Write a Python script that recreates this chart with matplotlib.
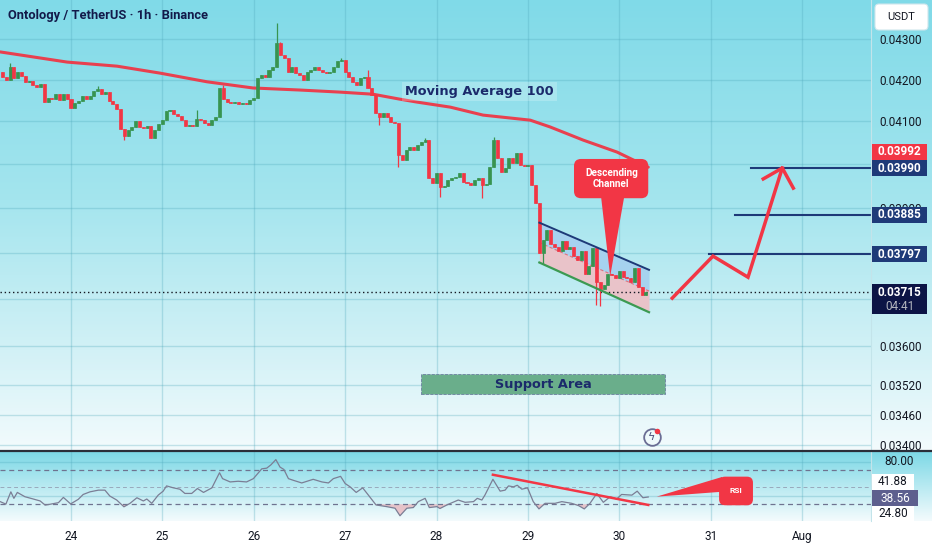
import numpy as np
import matplotlib
matplotlib.use("Agg")
import matplotlib.pyplot as plt
from matplotlib.patches import Rectangle, FancyBboxPatch, Polygon
from matplotlib.lines import Line2D
from matplotlib.transforms import IdentityTransform
from matplotlib.ticker import NullLocator, NullFormatter

plt.rcParams['font.family'] = ['Roboto', 'DejaVu Sans']

W, H = 932, 550

# one candle per hour, hours counted from 24 Jul 00:00
first_hour = -18
first_open = 0.04219
closes = [
    0.04207, 0.04199, 0.04231, 0.04204, 0.04219, 0.04209, 0.04195, 0.04197, 0.04187, 0.04182,
    0.04190, 0.04146, 0.04156, 0.04154, 0.04165, 0.04151, 0.04165, 0.04153, 0.04132, 0.04144,
    0.04149, 0.04161, 0.04153, 0.04161, 0.04173, 0.04178, 0.04165, 0.04170, 0.04149, 0.04141,
    0.04129, 0.04082, 0.04066, 0.04080, 0.04087, 0.04101, 0.04087, 0.04084, 0.04089, 0.04061,
    0.04080, 0.04094, 0.04103, 0.04125, 0.04127, 0.04117, 0.04113, 0.04103, 0.04089, 0.04091,
    0.04088, 0.04106, 0.04103, 0.04096, 0.04091, 0.04103, 0.04110, 0.04180, 0.04153, 0.04146,
    0.04144, 0.04146, 0.04141, 0.04144, 0.04141, 0.04151, 0.04156, 0.04204, 0.04212, 0.04207,
    0.04224, 0.04231, 0.04290, 0.04260, 0.04253, 0.04219, 0.04231, 0.04216, 0.04212, 0.04199,
    0.04219, 0.04224, 0.04231, 0.04224, 0.04219, 0.04216, 0.04219, 0.04231, 0.04246, 0.04248,
    0.04219, 0.04207, 0.04195, 0.04187, 0.04204, 0.04206, 0.04180, 0.04163, 0.04120, 0.04110,
    0.04120, 0.04110, 0.04098, 0.04096, 0.04021, 0.04010, 0.04033, 0.04040, 0.04033, 0.04045,
    0.04052, 0.04056, 0.03968, 0.03956, 0.03979, 0.03947, 0.03949, 0.03963, 0.03968, 0.03970,
    0.03979, 0.03959, 0.03956, 0.03952, 0.03963, 0.03968, 0.03952, 0.03954, 0.03993, 0.04056,
    0.04014, 0.03982, 0.03991, 0.04014, 0.04003, 0.04026, 0.03998, 0.03996, 0.03998, 0.03952,
    0.03911, 0.03800, 0.03828, 0.03851, 0.03820, 0.03813, 0.03804, 0.03826, 0.03808, 0.03813,
    0.03793, 0.03784, 0.03804, 0.03754, 0.03771, 0.03811, 0.03736, 0.03721, 0.03730, 0.03754,
    0.03752, 0.03745, 0.03760, 0.03747, 0.03745, 0.03736, 0.03767, 0.03726, 0.03709, 0.03715,
]
wick_high = {-16: 0.04240, 7: 0.04185, 33: 0.04127, 40: 0.04187, 54: 0.04340, 55: 0.04293,
             71: 0.04253, 78: 0.04224, 93: 0.04061, 111: 0.04063}
wick_low = {14: 0.04056, 81: 0.04091, 86: 0.03993, 97: 0.03925, 108: 0.03923,
            124: 0.03776, 138: 0.03687, 139: 0.03685}

ma_hours = [-18.6, -1.0, 12.1, 23.4, 35.7, 47.8, 60.2, 70.7, 79.3, 86.4, 90.9, 99.6,
            108.2, 120.6, 125.8, 134.5, 143.4, 151.6]
ma_values = [0.04268, 0.04243, 0.04233, 0.04216, 0.04195, 0.04180, 0.04175, 0.04170, 0.04165,
             0.04153, 0.04146, 0.04134, 0.04115, 0.04103, 0.04087, 0.04056, 0.04028, 0.03993]

rsi_hours = [-18.6, -17.1, -15.8, -15.0, -14.1, -12.1, -9.9, -8.1, -6.8, -5.5, -3.3, -2.0, -0.1,
             1.9, 3.2, 5.0, 7.2, 8.9, 10.2, 12.0, 13.9, 15.5, 17.3, 19.0, 19.9, 21.2, 22.9, 24.2,
             25.1, 26.9, 28.6, 29.9, 31.7, 33.2, 34.8, 37.0, 39.0, 39.8, 41.8, 43.9, 46.1, 47.9,
             50.1, 51.4, 52.5, 53.8, 54.9, 55.9, 57.1, 58.4, 60.6, 63.6, 65.9, 67.6, 68.9, 70.8,
             72.0, 73.3, 74.9, 76.6, 78.1, 80.1, 82.9, 85.1, 86.4, 88.2, 89.9, 91.2, 93.0, 94.1,
             96.1, 96.9, 99.1, 101.7, 103.5, 105.7, 106.7, 107.9, 108.7, 110.8, 112.7, 114.0,
             114.9, 116.2, 117.2, 118.4, 119.9, 121.4, 122.9, 124.5, 127.1, 128.9, 131.5, 133.3,
             134.8, 136.3, 138.1, 139.8, 141.6, 143.3, 144.6, 147.3, 148.7, 150.2, 151.6]
rsi_values = [33.1, 30.2, 44.7, 37.0, 44.0, 38.9, 36.2, 33.9, 29.0, 30.0, 31.9, 38.1, 30.4,
              35.8, 41.6, 44.7, 46.7, 46.7, 39.7, 35.0, 27.0, 31.1, 37.7, 33.9, 36.2, 31.1, 40.8,
              45.5, 51.7, 49.4, 47.8, 42.8, 42.8, 48.6, 44.0, 49.4, 67.3, 60.3, 56.4, 57.2, 56.4,
              60.3, 71.9, 72.7, 76.6, 82.8, 73.9, 71.2, 60.3, 58.3, 55.2, 59.5, 56.4, 55.2, 60.3,
              63.0, 54.5, 50.6, 44.0, 49.4, 40.8, 29.2, 27.2, 25.3, 16.4, 25.3, 26.1, 33.1, 37.0,
              26.1, 27.2, 25.0, 30.0, 35.0, 32.3, 33.1, 37.0, 35.0, 40.8, 59.5, 45.5, 46.7, 51.7,
              50.6, 52.5, 47.8, 49.4, 33.1, 24.5, 31.1, 31.1, 33.1, 31.1, 28.4, 24.5, 31.1, 42.8,
              32.3, 38.9, 36.2, 41.6, 40.8, 45.5, 37.7, 38.6]

day_hours = [0, 24, 48, 72, 96, 120, 144, 168, 192]
day_labels = ["24", "25", "26", "27", "28", "29", "30", "31", "Aug"]
price_ticks = [0.043, 0.042, 0.041, 0.040, 0.039, 0.038, 0.037, 0.036, 0.0352, 0.0346, 0.034]
hidden_ticks = [0.040, 0.038, 0.037]   # sit under the price tags

# drawings on the chart
channel_hours = [123.0, 151.8]
channel_top = [0.03867, 0.03763]
channel_bottom = [0.03779, 0.03672]
support_hours = [91.9, 156.0]
support_prices = [0.03502, 0.03543]
ma_box_hours = [86.9, 127.7]
ma_box_prices = [0.041486, 0.041944]
target_levels = [0.03797, 0.03885, 0.03990]
target_start = [167.6, 174.4, 178.6]
path_hours = [157.9, 168.6, 177.8, 186.8]
path_prices = [0.03702, 0.03793, 0.03747, 0.03991]
head_hours = [181.8, 186.8, 189.7]
head_prices = [0.03966, 0.03991, 0.03945]
rsi_trend_hours = [110.8, 151.6]
rsi_trend_values = [64.9, 29.2]
last_price = 0.03715
ma_last = 0.03992
rsi_last = 38.56
rsi_ma = 41.88

GREEN = '#389450'
RED = '#f23645'
NAVY = '#1e3a78'
TXT = '#131722'
GRID = '#4fa8bb'

fig = plt.figure(figsize=(W / 100, H / 100), dpi=100)


def frame(x0, y0, x1, y1):
    return [x0 / W, 1 - y1 / H, (x1 - x0) / W, (y1 - y0) / H]


# background gradient (main pane, rsi pane, white strip)
bg = fig.add_axes([0, 0, 1, 1])
bg.axis('off')
stops = [0, 200, 350, 451, 451.5, 521, 521.5, 550]
cols = np.array([[128, 218, 232], [164, 229, 238], [210, 241, 246], [243, 251, 253],
                 [124, 216, 230], [244, 251, 253], [255, 255, 255], [255, 255, 255]]) / 255
rows = np.arange(H) + 0.5
img = np.stack([np.interp(rows, stops, cols[:, k]) for k in range(3)], axis=1)[:, None, :]
bg.imshow(img, aspect='auto', extent=[0, 1, 0, 1], interpolation='bilinear')

ax = fig.add_axes(frame(0, 0, 871, 451))
axr = fig.add_axes(frame(0, 452, 871, 521))
for a in (ax, axr):
    a.set_facecolor('none')
    for s in a.spines.values():
        s.set_visible(False)

# ---- main pane
ax.set_yscale('log')
closes = np.array(closes)
n = len(closes)
hours = np.arange(first_hour, first_hour + n)
opens = np.r_[first_open, closes[:-1]]
colors = np.where(closes >= opens, GREEN, RED)
tops = np.maximum(opens, closes)
bots = np.minimum(opens, closes)
highs = tops.copy()
lows = bots.copy()
for h, v in wick_high.items():
    highs[h - first_hour] = v
for h, v in wick_low.items():
    lows[h - first_hour] = v

ch = np.array(channel_hours)
ctop = np.array(channel_top)
cbot = np.array(channel_bottom)
cmid = np.sqrt(ctop * cbot)
ax.fill_between(ch, cmid, ctop, color='#a6d2ef', zorder=1.5, lw=0)
ax.fill_between(ch, cbot, cmid, color='#e9c3c9', zorder=1.5, lw=0)
ax.plot(ch, cmid, color='#e0707d', lw=0.8, ls=(0, (3, 2)), zorder=1.6)

ax.vlines(hours, lows, highs, colors=colors, lw=0.9, zorder=3)
ax.bar(hours, tops - bots, bottom=bots, width=0.8, color=colors, edgecolor=colors, lw=0.5, zorder=3)

ax.plot(ch, ctop, color=NAVY, lw=1.4, zorder=3.5)
ax.plot(ch, cbot, color='#3c9a52', lw=1.6, zorder=3.5)

ax.plot(ma_hours, ma_values, color='#e8404f', lw=2.2, zorder=2, solid_capstyle='round')

ax.add_patch(Rectangle((ma_box_hours[0], ma_box_prices[0]), ma_box_hours[1] - ma_box_hours[0],
                       ma_box_prices[1] - ma_box_prices[0], fc='white', alpha=0.22, lw=0, zorder=2.5))
ax.text(np.mean(ma_box_hours), np.sqrt(ma_box_prices[0] * ma_box_prices[1]), "Moving Average 100",
        ha='center', va='center', fontsize=9.3, weight='bold', family='DejaVu Sans', color='#1b2a6b', zorder=4)

ax.add_patch(Rectangle((support_hours[0], support_prices[0]), support_hours[1] - support_hours[0],
                       support_prices[1] - support_prices[0], fc='#6aae8b', ec='#6c7fa0', lw=0.6,
                       ls='--', zorder=1.5))
ax.text(np.mean(support_hours), np.sqrt(support_prices[0] * support_prices[1]), "Support Area",
        ha='center', va='center', fontsize=9.3, weight='bold', family='DejaVu Sans', color='#1b2a6b', zorder=4)

x_end = 210.1
for lvl, st in zip(target_levels, target_start):
    ax.plot([st, x_end], [lvl, lvl], color=NAVY, lw=1.5, zorder=3)
ax.plot(path_hours, path_prices, color=RED, lw=2.5, zorder=4, solid_joinstyle='miter')
ax.plot(head_hours, head_prices, color=RED, lw=2.5, zorder=4)

ax.axhline(last_price, color=TXT, lw=1, ls=(0, (1, 2)), zorder=2)

# news icon
ax.plot(152.6, 0.034163, 'o', ms=12, mfc='none', mec='#6a6d94', mew=1.3, zorder=4)
ax.text(152.6, 0.034163, '\u03df', ha='center', va='center', fontsize=8, color='#4a4d7a',
        family='DejaVu Sans', zorder=4)
ax.plot(153.9, 0.034282, 'o', ms=4, color=RED, mec='none', zorder=5)

ax.set_xlim(-18.65, x_end)
ax.set_ylim(0.03389, 0.04398)
ax.yaxis.tick_right()
ax.set_yticks(price_ticks)
ax.set_yticklabels(["" if t in hidden_ticks else f"{t:.5f}" for t in price_ticks])
ax.yaxis.set_minor_locator(NullLocator())
ax.yaxis.set_minor_formatter(NullFormatter())
ax.set_xticks(day_hours)
ax.tick_params(axis='x', length=0, labelbottom=False)
ax.tick_params(axis='y', length=0, pad=6, labelsize=8.5, labelcolor=TXT)
ax.grid(True, color=GRID, alpha=0.3, lw=1)
ax.set_axisbelow(True)

# ---- rsi pane
rv = np.array(rsi_values)
axr.plot(rsi_hours, rv, color='#7b7e95', lw=0.9, zorder=3)
axr.fill_between(rsi_hours, rv, 30, where=rv < 30, interpolate=True, color='#eea3ab', alpha=0.6, lw=0)
for lv in (70, 30):
    axr.axhline(lv, color='#6f7390', lw=0.9, ls=(0, (4, 3)), zorder=2)
axr.axhline(50, color='#8a8ea6', lw=0.7, ls=(0, (4, 3)), alpha=0.7, zorder=2)
for lv in (80, 40):
    axr.axhline(lv, color=GRID, lw=1, alpha=0.3, zorder=1)
axr.plot(rsi_trend_hours, rsi_trend_values, color=RED, lw=1.8, zorder=4)
axr.set_xlim(-18.65, x_end)
axr.set_ylim(10.2, 91.8)
axr.set_yticks([])
axr.set_xticks(day_hours)
axr.set_xticklabels(day_labels)
axr.tick_params(axis='x', length=0, pad=6.5, labelsize=8.5, labelcolor=TXT)
axr.grid(True, axis='x', color=GRID, alpha=0.3, lw=1)

IDT = IdentityTransform()


def disp(a, h, v):
    return a.transData.transform((h, v))


# callout: Descending Channel
x0, y0 = disp(ax, 132.1, 0.03922)
x1, y1 = disp(ax, 151.6, 0.04012)
ax.add_patch(FancyBboxPatch((x0, y0), x1 - x0, y1 - y0, boxstyle='round,pad=0,rounding_size=7',
                            transform=IDT, fc=RED, ec='none', zorder=6))
ax.add_patch(Polygon([(139.2, 0.03926), (145.3, 0.03926), (141.6, 0.03749)], closed=True,
                     fc=RED, ec='none', zorder=6))
ax.text(141.9, 0.03967, "Descending\nChannel", ha='center', va='center', color='white',
        fontsize=7.2, weight='bold', linespacing=1.05, zorder=7)

# callout: RSI
x0, y0 = disp(axr, 170.2, 28.8)
x1, y1 = disp(axr, 179.1, 62.65)
axr.add_patch(FancyBboxPatch((x0, y0), x1 - x0, y1 - y0, boxstyle='round,pad=0,rounding_size=6',
                             transform=IDT, fc=RED, ec='none', zorder=6))
axr.add_patch(Polygon([(153.8, 39.0), (171.0, 62.3), (171.0, 44.8)], closed=True,
                      fc=RED, ec='none', zorder=6))
axr.text(174.6, 45.7, "RSI", ha='center', va='center', color='white', fontsize=6,
         weight='bold', zorder=7)


# ---- right scale tags
def tag(a, value, label, fc=None, tc='white', dy=0, hgt=16, x1=927, weight='bold', sub=None):
    y = a.transData.transform((0, value))[1] + dy
    if fc is not None:
        top = y + hgt / 2
        bot = y - hgt / 2
        if sub:
            top = y + 8
            bot = y - 22
        fig.add_artist(Rectangle((872, bot), x1 - 872, top - bot, transform=IDT, fc=fc, ec='none', zorder=5))
    fig.text((872 + x1) / 2, y, label, transform=IDT, ha='center', va='center', fontsize=8.5,
             color=tc, weight=weight, zorder=6)
    if sub:
        fig.text((872 + x1) / 2, y - 14, sub, transform=IDT, ha='center', va='center', fontsize=8.5,
                 color='#b2b5be', zorder=6)


tag(ax, ma_last, f"{ma_last:.5f}", fc=RED, dy=16)
for lvl in target_levels:
    tag(ax, lvl, f"{lvl:.5f}", fc=NAVY)
tag(ax, last_price, f"{last_price:.5f}", fc='#0c1445', sub="04:41")

tag(axr, 80, "80.00", tc=TXT, weight='normal')
tag(axr, rsi_ma, f"{rsi_ma:.2f}", fc='white', tc=TXT, dy=12.5, x1=914, weight='normal')
tag(axr, rsi_last, f"{rsi_last:.2f}", fc='#5d5f8e', dy=-1, x1=918, weight='normal')
tag(axr, 24.80, "24.80", fc='white', tc=TXT, dy=-5, x1=914, weight='normal')

# currency box, separators, title
fig.add_artist(FancyBboxPatch((875, H - 30), 53, 26, boxstyle='round,pad=0,rounding_size=4',
                              transform=IDT, fc='white', ec='#cfe6ec', lw=0.8, zorder=5))
fig.text(901.5, H - 17, "USDT", transform=IDT, ha='center', va='center', fontsize=8, color=TXT, zorder=6)
fig.add_artist(Line2D([0, 1], [1 - 451 / H] * 2, transform=fig.transFigure, color='#2a2e39', lw=1.6, zorder=5))
fig.add_artist(Line2D([871 / W] * 2, [1 - 521 / H, 1], transform=fig.transFigure, color='#c3e4ea', lw=0.8, zorder=1))

fig.text(8 / W, 1 - 16 / H, "Ontology / TetherUS \u00b7 1h \u00b7 Binance", ha='left', va='center',
         fontsize=9.3, weight='bold', color='#131a4a', zorder=6)

fig.savefig("out.png", dpi=100)
